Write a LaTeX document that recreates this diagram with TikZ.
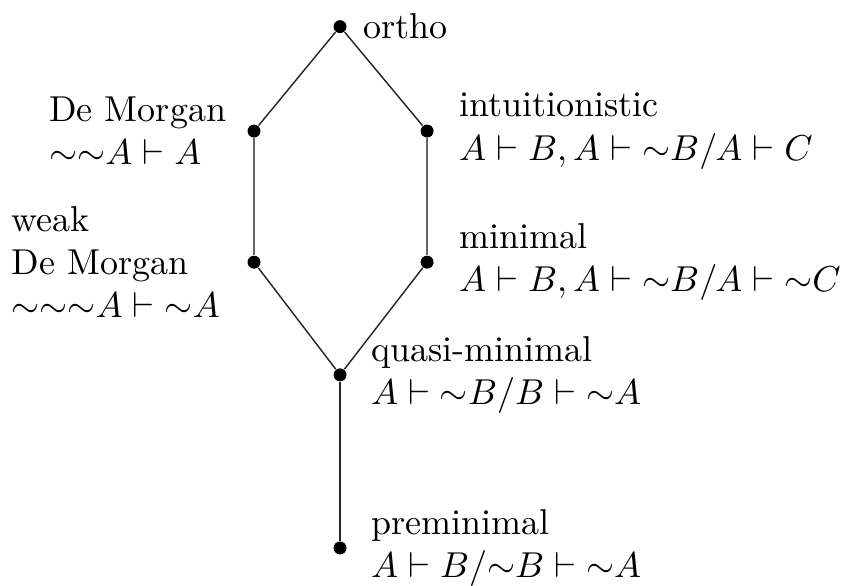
\documentclass[tikz,border=0pt]{standalone}
\usepackage{amsmath,amssymb}
\usetikzlibrary{positioning}

\newcommand{\nf}{{\sim}}

\begin{document}
\begin{tikzpicture}[
  dot/.style={circle, fill=black, inner sep=0pt, minimum size=3.6pt},
  lbl/.style={align=left, inner sep=1pt},
  edge/.style={draw, black!85},
]
  \useasboundingbox (0,0) rectangle (8.26,5.72);

  % Column x-coordinates
  \def\xl{2.48}
  \def\xm{3.32}
  \def\xr{4.17}

  % Lattice points
  \node[dot] (ortho)  at (\xm, 5.46) {};
  \node[dot] (dm)     at (\xl, 4.44) {};
  \node[dot] (intu)   at (\xr, 4.44) {};
  \node[dot] (wdm)    at (\xl, 3.16) {};
  \node[dot] (mini)   at (\xr, 3.16) {};
  \node[dot] (quasi)  at (\xm, 2.06) {};
  \node[dot] (premin) at (\xm, 0.37) {};

  % Labels
  \node[lbl, right=0.12cm of ortho] (orthol) {ortho};
  \node[lbl, left=0.16cm of dm] (dml) {De Morgan\\ $\nf\nf A \vdash A$};
  \node[lbl, right=0.2cm of intu] (intul)
       {intuitionistic\\ $A \vdash B, A \vdash \nf B/A \vdash C$};
  \node[lbl, left=0.22cm of wdm] (wdml)
       {weak\\ De Morgan\\ $\nf\nf\nf A \vdash \nf A$};
  \node[lbl, right=0.2cm of mini] (minil)
       {minimal\\ $A \vdash B, A \vdash \nf B/A \vdash \nf C$};
  \node[lbl, right=0.19cm of quasi] (quasil)
       {quasi-minimal\\ $A \vdash \nf B/B \vdash \nf A$};
  \node[lbl, right=0.19cm of premin] (preminl)
       {preminimal\\ $A \vdash B/\nf B \vdash \nf A$};

  % Order edges
  \draw[edge] (ortho) -- (dm);
  \draw[edge] (ortho) -- (intu);
  \draw[edge, black!60] (dm) -- (wdm);
  \draw[edge, black!60] (intu) -- (mini);
  \draw[edge] (wdm) -- (quasi);
  \draw[edge] (mini) -- (quasi);
  \draw[edge] (quasi) -- (premin);

\end{tikzpicture}
\end{document}
